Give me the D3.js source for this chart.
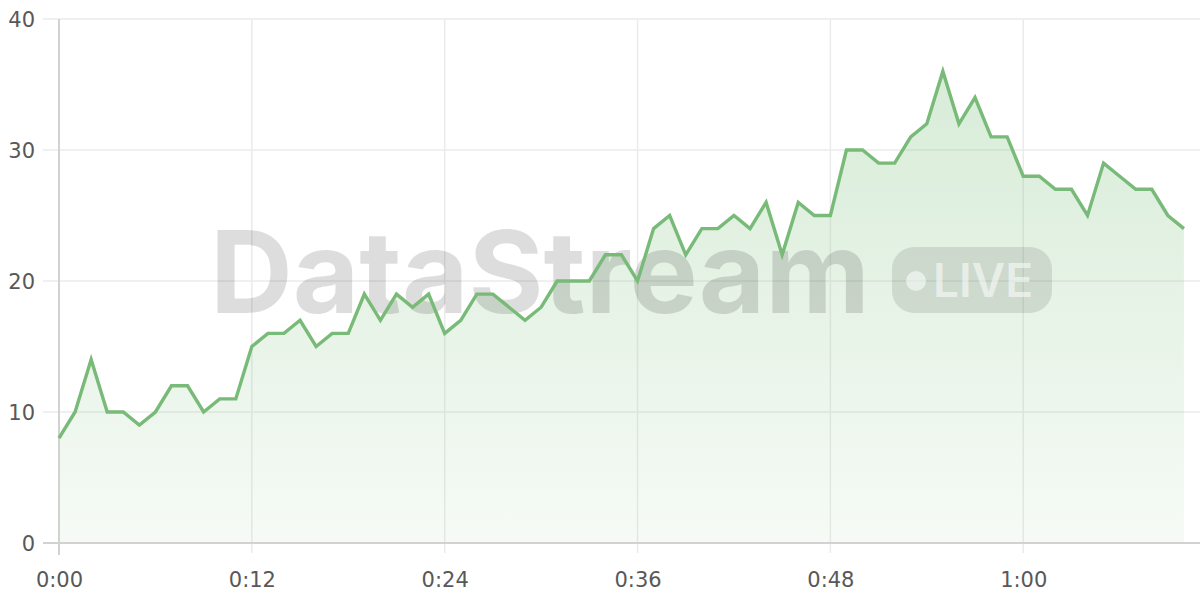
<!DOCTYPE html>
<html>
<head>
<meta charset="utf-8">
<script src="https://cdn.jsdelivr.net/npm/d3@7"></script>
<style>
  html, body { margin: 0; padding: 0; background: #ffffff; }
  svg { display: block; }
</style>
</head>
<body>
<svg id="chart" width="1200" height="600"></svg>
<script>
// ---- data ----
const seconds = d3.range(0, 71);
const values = [8,10,14,10,10,9,10,12,12,10,11,11,15,16,16,17,15,16,16,19,
                17,19,18,19,16,17,19,19,18,17,18,20,20,20,22,22,20,24,25,22,
                24,24,25,24,26,22,26,25,25,30,30,29,29,31,32,36,32,34,31,31,
                28,28,27,27,25,29,28,27,27,25,24];
const xTicks = [0, 12, 24, 36, 48, 60];
const xTickLabels = ["0:00", "0:12", "0:24", "0:36", "0:48", "1:00"];
const yTicks = [0, 10, 20, 30, 40];
const watermarkText = "DataStream";
const badgeText = "LIVE";

(function () {
const data = seconds.map((s, i) => ({ t: s, v: values[i] }));

// ---- layout ----
const svg = d3.select("#chart");
const mLeft = 59, mRight = 1200, mTop = 19, mBottom = 543;
const x = d3.scaleLinear().domain([0, 71]).range([mLeft, mRight]);
const y = d3.scaleLinear().domain([0, 40]).range([mBottom, mTop]);
const font = "'DejaVu Sans', sans-serif";

// gradient
const defs = svg.append("defs");
const grad = defs.append("linearGradient")
  .attr("id", "areaGrad").attr("gradientUnits", "userSpaceOnUse")
  .attr("x1", 0).attr("x2", 0).attr("y1", y(36)).attr("y2", y(0));
grad.append("stop").attr("offset", "0%").attr("stop-color", "#7cbf7c").attr("stop-opacity", 0.30);
grad.append("stop").attr("offset", "100%").attr("stop-color", "#7cbf7c").attr("stop-opacity", 0.07);

// horizontal grid
svg.append("g").selectAll("line").data(yTicks.filter(d => d !== 0)).join("line")
  .attr("x1", mLeft - 16).attr("x2", mRight)
  .attr("y1", d => y(d)).attr("y2", d => y(d))
  .attr("stroke", "#ebebeb").attr("stroke-width", 1.5);

// vertical grid
svg.append("g").selectAll("line").data(xTicks.filter(d => d !== 0)).join("line")
  .attr("x1", d => x(d)).attr("x2", d => x(d))
  .attr("y1", mTop).attr("y2", mBottom + 10)
  .attr("stroke", "#ebebeb").attr("stroke-width", 1.5);

// area
const area = d3.area().x(d => x(d.t)).y0(y(0)).y1(d => y(d.v));
svg.append("path").datum(data).attr("d", area).attr("fill", "url(#areaGrad)");

// watermark
const wm = svg.append("g");
wm.append("text")
  .attr("x", 210).attr("y", 313)
  .attr("font-family", "Inter, 'Open Sans', sans-serif")
  .attr("font-weight", 700)
  .attr("font-size", 114)
  .attr("textLength", 660).attr("lengthAdjust", "spacingAndGlyphs")
  .attr("fill", "rgba(0,0,0,0.135)")
  .text(watermarkText);
wm.append("rect")
  .attr("x", 892).attr("y", 247).attr("width", 160).attr("height", 66)
  .attr("rx", 22).attr("ry", 22)
  .attr("fill", "rgba(0,0,0,0.10)");
wm.append("circle").attr("cx", 916).attr("cy", 281).attr("r", 10)
  .attr("fill", "rgba(255,255,255,0.55)");
wm.append("text")
  .attr("x", 933).attr("y", 297)
  .attr("font-family", "Inter, 'Open Sans', sans-serif")
  .attr("font-weight", 600)
  .attr("font-size", 46)
  .attr("textLength", 100).attr("lengthAdjust", "spacingAndGlyphs")
  .attr("fill", "rgba(255,255,255,0.55)")
  .text(badgeText);

// axes lines
svg.append("line").attr("x1", mLeft).attr("x2", mLeft).attr("y1", mTop).attr("y2", mBottom + 12)
  .attr("stroke", "#d2d2d2").attr("stroke-width", 2);
svg.append("line").attr("x1", mLeft - 16).attr("x2", mRight).attr("y1", mBottom).attr("y2", mBottom)
  .attr("stroke", "#d2d2d2").attr("stroke-width", 2);

// line
const line = d3.line().x(d => x(d.t)).y(d => y(d.v));
svg.append("path").datum(data).attr("d", line)
  .attr("fill", "none").attr("stroke", "#78ba78").attr("stroke-width", 3.4)
  .attr("stroke-linejoin", "miter");

// y labels
const yAxis = d3.axisLeft(y).tickValues(yTicks).tickSize(0).tickPadding(0).tickFormat(d3.format("d"));
const gy = svg.append("g").attr("transform", `translate(${mLeft - 24},0)`).call(yAxis);
gy.select(".domain").remove();
gy.selectAll("text").attr("font-family", font).attr("font-size", 21).attr("fill", "#585858").attr("dy", "0.36em");

// x labels
const xAxis = d3.axisBottom(x).tickValues(xTicks).tickSize(0).tickPadding(0)
  .tickFormat((d, i) => xTickLabels[i]);
const gx = svg.append("g").attr("transform", `translate(0,${mBottom + 29})`).call(xAxis);
gx.select(".domain").remove();
gx.selectAll("text").attr("font-family", font).attr("font-size", 21).attr("fill", "#585858").attr("dy", "0.72em");
})();
</script>
</body>
</html>
